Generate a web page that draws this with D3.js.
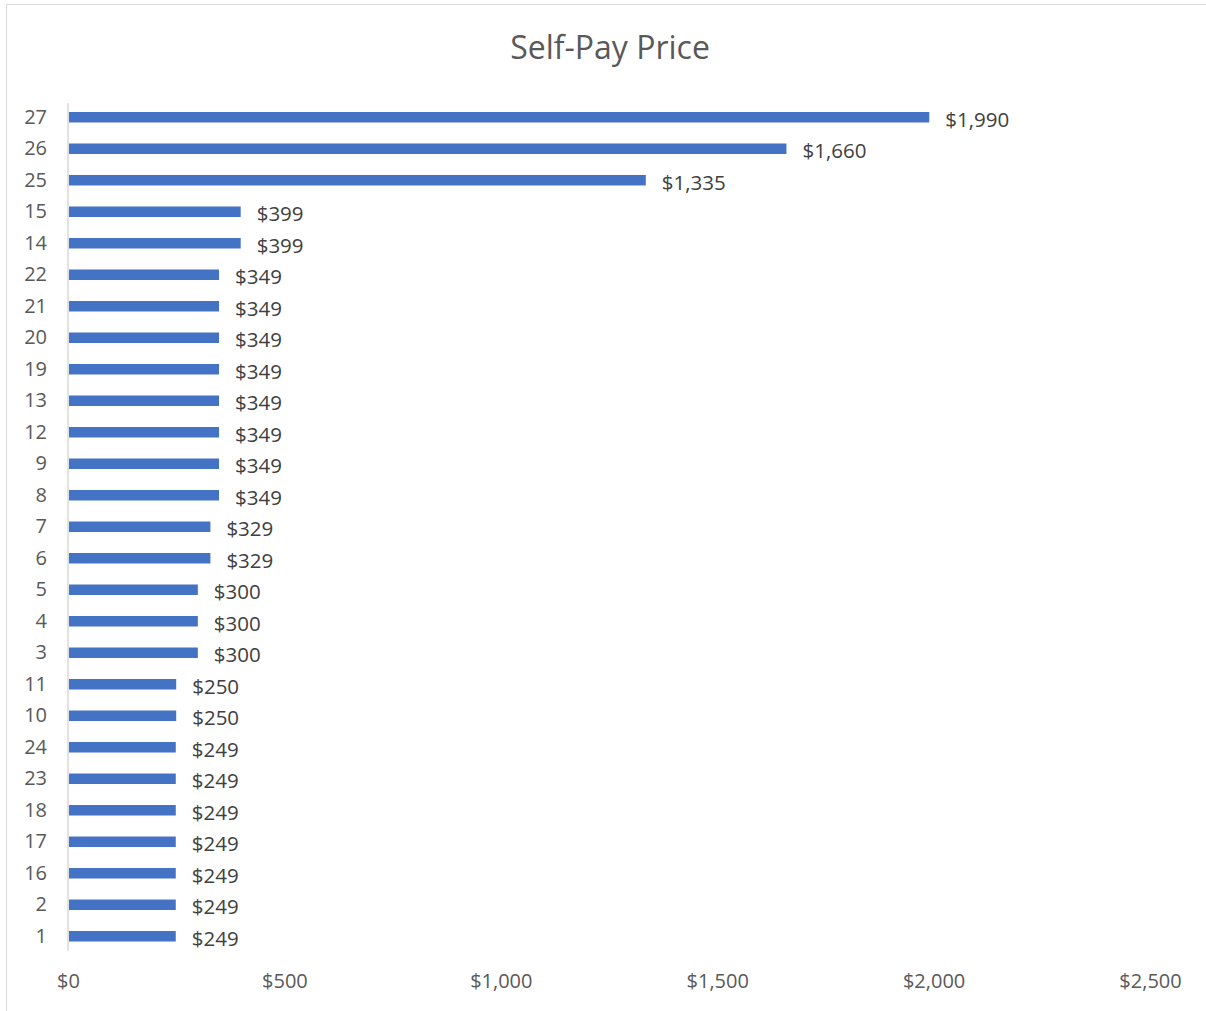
<!DOCTYPE html>
<html>
<head>
<meta charset="utf-8">
<script src="https://cdn.jsdelivr.net/npm/d3@7"></script>
<style>
  body { margin: 0; background: #fff; }
  text { font-family: "Open Sans", "Noto Sans", sans-serif; }
</style>
</head>
<body>
<div id="main"></div>
<script>
// categories top to bottom, as shown
const categories = ['27','26','25','15','14','22','21','20','19','13','12','9','8','7','6','5','4','3','11','10','24','23','18','17','16','2','1'];
const prices = [1990,1660,1335,399,399,349,349,349,349,349,349,349,349,329,329,300,300,300,250,250,249,249,249,249,249,249,249];
const xTicks = [0,500,1000,1500,2000,2500];

const canvasWidth = 1206;
const canvasHeight = 1011;

const svg = d3.select('#main').append('svg')
  .attr('width', canvasWidth)
  .attr('height', canvasHeight);

// chart border
svg.append('rect')
  .attr('x', 6.5).attr('y', 4.5)
  .attr('width', 1210).attr('height', 1020)
  .attr('fill', 'none')
  .attr('stroke', '#d9d9d9')
  .attr('stroke-width', 1);

svg.append('text')
  .attr('x', 610).attr('y', 59)
  .attr('text-anchor', 'middle')
  .attr('font-size', 32)
  .attr('fill', '#595959')
  .text('Self-Pay Price');

const x = d3.scaleLinear().domain([0, 2500]).range([68, 1150]);
const y = d3.scaleBand().domain(categories).range([101.5, 952]).paddingInner(0.667).paddingOuter(0.333);

const data = categories.map((c, i) => ({ cat: c, val: prices[i] }));

// bars
svg.append('g').selectAll('rect')
  .data(data).enter().append('rect')
  .attr('x', x(0) + 1)
  .attr('y', d => y(d.cat))
  .attr('width', d => x(d.val) - x(0) - 1)
  .attr('height', y.bandwidth())
  .attr('fill', '#4472c4');

// value labels
const fmt = d3.format('$,');
svg.append('g').selectAll('text')
  .data(data).enter().append('text')
  .attr('x', d => x(d.val) + 16)
  .attr('y', d => y(d.cat) + y.bandwidth() / 2 + 4)
  .attr('dominant-baseline', 'middle')
  .attr('font-size', 20.5)
  .attr('fill', '#404040')
  .text(d => fmt(d.val));

// y axis
const yAxis = svg.append('g')
  .attr('transform', `translate(${x(0)},0)`)
  .call(d3.axisLeft(y).tickSize(0).tickPadding(21));
yAxis.select('.domain').attr('stroke', '#d9d9d9').attr('stroke-width', 1.5)
  .attr('d', 'M0,103V951');
yAxis.selectAll('text')
  .attr('font-size', 20)
  .attr('fill', '#595959')
  .attr('font-family', '"Open Sans", "Noto Sans", sans-serif');

// x axis labels
const xAxis = svg.append('g')
  .attr('transform', 'translate(0,971)')
  .call(d3.axisBottom(x).tickValues(xTicks).tickSize(0).tickFormat(d3.format('$,')));
xAxis.select('.domain').remove();
xAxis.selectAll('text')
  .attr('font-size', 20)
  .attr('fill', '#595959')
  .attr('font-family', '"Open Sans", "Noto Sans", sans-serif');
</script>
</body>
</html>
